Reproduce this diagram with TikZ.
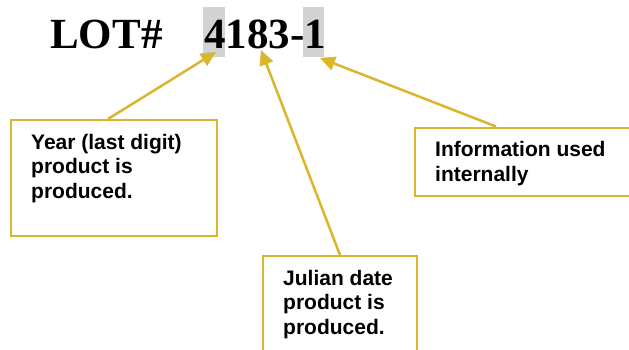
\documentclass[tikz,border=0pt]{standalone}
\usepackage{fontspec}
\setmainfont{Liberation Sans}
\newfontfamily\lotserif{Liberation Serif}
\usetikzlibrary{positioning,arrows.meta}
\definecolor{lotgold}{RGB}{218,182,44}
\definecolor{lotgray}{RGB}{211,211,211}

\begin{document}
\begin{tikzpicture}[x=1pt, y=-1pt,
    infobox/.style={draw=lotgold, line width=2pt, anchor=north west, inner sep=0},
    infotext/.style={font=\bfseries\fontsize{21}{24.5}\selectfont, align=left, inner sep=0},
    pointer/.style={draw=lotgold, line width=2.5pt, -{Triangle[length=15pt, width=14pt]}},
    title/.style={font=\lotserif\bfseries\fontsize{43}{50}\selectfont, inner sep=0, anchor=base west}]
    \useasboundingbox[fill=white] (0,0) rectangle (629,349);

    % shaded digits behind the lot number
    \fill[lotgray] (203,7) rectangle (225,57);
    \fill[lotgray] (303,7) rectangle (324,57);
    \node[title] (lot) at (50,48) {LOT\#};
    \node[title] (code) at (204,48) {4183-1};

    \coordinate (yeartip) at (216,52);
    \coordinate (juliantip) at (261,50);
    \coordinate (internaltip) at (320,58);

    % call-out boxes
    \node[infobox, minimum width=206pt, minimum height=116pt] (yearbox) at (10,119) {};
    \node[infobox, minimum width=260pt, minimum height=68.5pt] (internalbox) at (414,126.5) {};
    \node[infobox, minimum width=154pt, minimum height=130pt] (julianbox) at (262,255) {};

    \node[infotext, below right=14.7pt and 21pt of yearbox.north west] (yeartext)
        {Year (last digit)\\product is\\produced.};
    \node[infotext, below right=14.7pt and 21pt of internalbox.north west] (internaltext)
        {Information used\\internally};
    \node[infotext, below right=14.7pt and 21pt of julianbox.north west] (juliantext)
        {Julian date\\product is\\produced.};

    \draw[pointer] ([xshift=-6pt]yearbox.north) -- (yeartip);
    \draw[pointer] (julianbox.north) -- (juliantip);
    \draw[pointer] ([xshift=-49pt]internalbox.north) -- (internaltip);
\end{tikzpicture}
\end{document}
